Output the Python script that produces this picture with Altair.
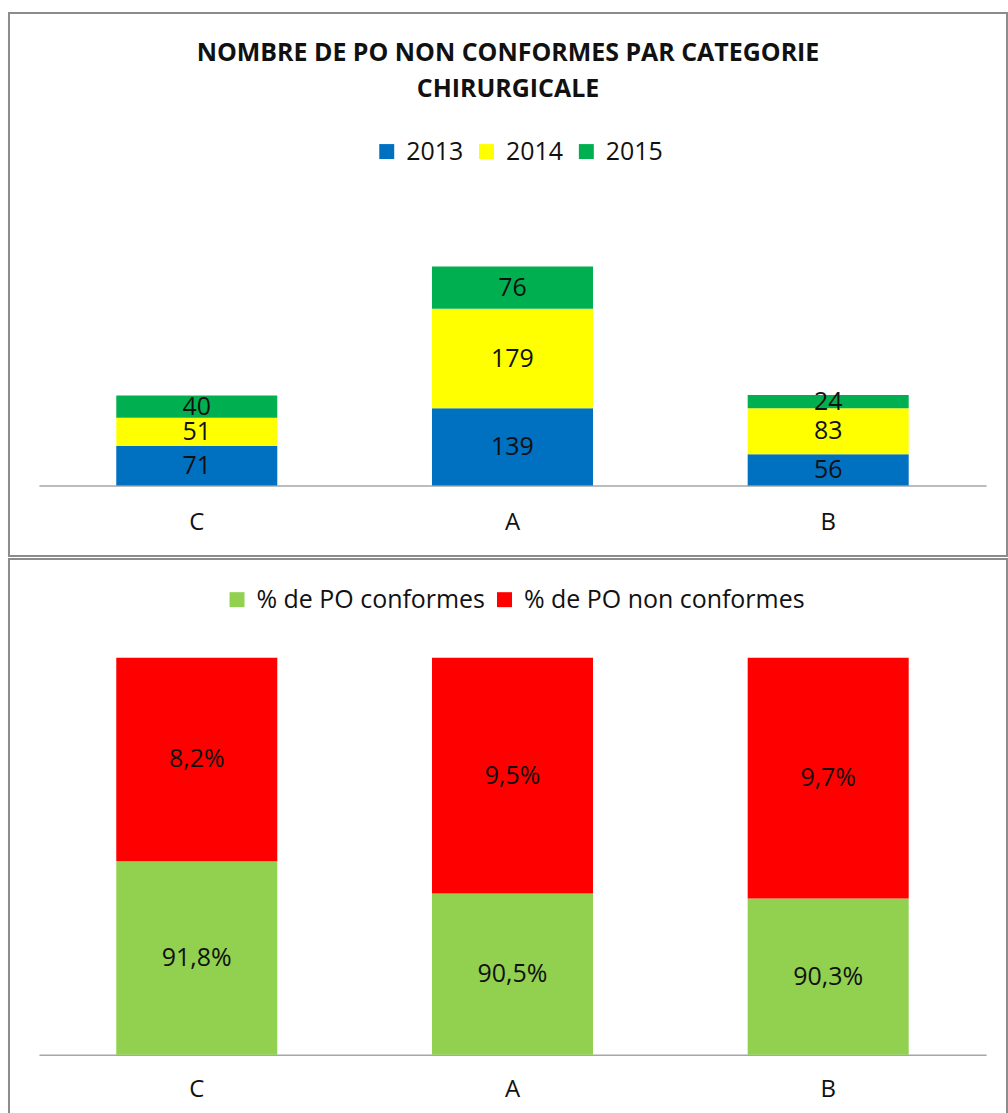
import altair as alt
import pandas as pd

# ---------------- data ----------------
categories = ["C", "A", "B"]
years = ["2013", "2014", "2015"]
counts_2013 = [71, 139, 56]
counts_2014 = [51, 179, 83]
counts_2015 = [40, 76, 24]

pct_series = ["% de PO conformes", "% de PO non conformes"]
pct_conformes = [0.918, 0.905, 0.903]
pct_non_conformes = [0.082, 0.095, 0.097]

title_lines = ["NOMBRE DE PO NON CONFORMES PAR CATEGORIE", "CHIRURGICALE"]

year_colors = ["#0070C0", "#FFFF00", "#00B050"]
pct_colors = ["#92D050", "#FF0000"]

FONT = "Open Sans"
TXT = "#111111"
W = 1000
H1 = 544
H2 = 557
YMIN2 = 0.84
FS = 25

rows1 = []
for i, c in enumerate(categories):
    for k, vals in enumerate([counts_2013, counts_2014, counts_2015]):
        rows1.append({"cat": c, "year": years[k], "ord": k, "value": vals[i]})
df1 = pd.DataFrame(rows1)

rows2 = []
for i, c in enumerate(categories):
    rows2.append({"cat": c, "serie": pct_series[0], "ord": 0, "value": pct_conformes[i]})
    rows2.append({"cat": c, "serie": pct_series[1], "ord": 1, "value": pct_non_conformes[i]})
df2 = pd.DataFrame(rows2)


def x_axis(offset, pad):
    return alt.Axis(title=None, orient="bottom", offset=offset, labelAngle=0,
                    ticks=False, tickSize=0, labelPadding=pad, labelBaseline="middle",
                    labelFont=FONT, labelFontSize=24, labelColor=TXT,
                    domainColor="#A6A6A6", domainWidth=1.5, grid=False)


def legend(x, y, cp):
    return alt.Legend(orient="none", legendX=x, legendY=y,
                      direction="horizontal", title=None,
                      symbolType="square", symbolSize=225,
                      symbolStrokeWidth=0, symbolOpacity=1,
                      labelFont=FONT, labelFontSize=FS, labelColor=TXT,
                      labelLimit=500, labelOffset=7, columnPadding=cp, padding=0)


# ---------------- top chart ----------------
base1 = alt.Chart(df1).transform_stack(
    stack="value", groupby=["cat"], as_=["y0", "y1"],
    sort=[alt.SortField("ord", order="ascending")]
).transform_calculate(mid="(datum.y0 + datum.y1) / 2")

xs1 = alt.Scale(domain=categories, range=[30, 979], paddingInner=0.49, paddingOuter=0.245)
ys1 = alt.Scale(domain=[0, 400], range=[473.3, 250.7])

bars1 = base1.mark_bar().encode(
    x=alt.X("cat:N", scale=xs1, axis=x_axis(-70.7, 37), sort=categories),
    y=alt.Y("y0:Q", scale=ys1, axis=None),
    y2="y1:Q",
    color=alt.Color("year:N", scale=alt.Scale(domain=years, range=year_colors),
                    legend=legend(366, 126, 10)),
)
text1 = base1.mark_text(font=FONT, fontSize=FS, color=TXT, baseline="middle").encode(
    x=alt.X("cat:N", scale=xs1, sort=categories),
    y=alt.Y("mid:Q", scale=ys1),
    text=alt.Text("value:Q"),
)
top = alt.layer(bars1, text1).properties(
    width=W, height=H1,
    title=alt.TitleParams(text=title_lines, font=FONT, fontSize=25, fontWeight="bold",
                          color=TXT, anchor="middle", offset=-89, lineHeight=36,
                          frame="group"),
)

# ---------------- bottom chart ----------------
base2 = alt.Chart(df2).transform_stack(
    stack="value", groupby=["cat"], as_=["y0", "y1"],
    sort=[alt.SortField("ord", order="ascending")]
).transform_calculate(
    mid=f"(max(datum.y0, {YMIN2}) + datum.y1) / 2",
    lab="replace(format(datum.value, '.1%'), '.', ',')",
)

xs2 = alt.Scale(domain=categories, range=[30, 979], paddingInner=0.49, paddingOuter=0.245)
ys2 = alt.Scale(domain=[YMIN2, 1.0], range=[496.7, 99], clamp=True)

bars2 = base2.mark_bar().encode(
    x=alt.X("cat:N", scale=xs2, axis=x_axis(-60.3, 35), sort=categories),
    y=alt.Y("y0:Q", scale=ys2, axis=None),
    y2="y1:Q",
    color=alt.Color("serie:N", scale=alt.Scale(domain=pct_series, range=pct_colors),
                    legend=legend(216, 28, 6)),
)
text2 = base2.mark_text(font=FONT, fontSize=FS, color=TXT, baseline="middle").encode(
    x=alt.X("cat:N", scale=xs2, sort=categories),
    y=alt.Y("mid:Q", scale=ys2),
    text="lab:N",
)
bottom = alt.layer(bars2, text2).properties(width=W, height=H2)

chart = alt.vconcat(top, bottom, spacing=1).resolve_scale(
    color="independent", x="independent", y="independent"
).properties(
    padding={"left": 8, "top": 11, "right": 0, "bottom": 0},
    background="white",
).configure_view(stroke="#8C8C8C", strokeWidth=2)

chart.save("out.html", embed_options={"renderer": "svg", "actions": False})
